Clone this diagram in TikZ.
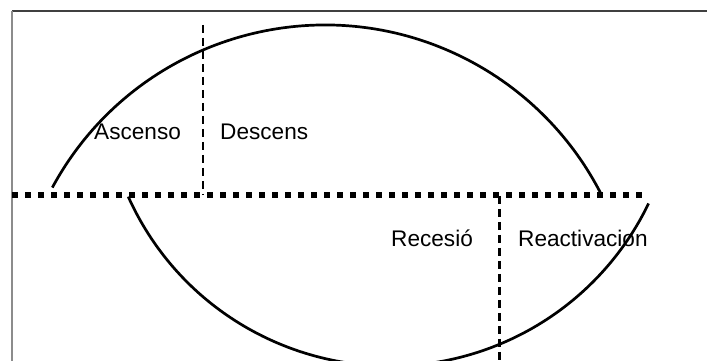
\documentclass[tikz,border=0pt]{standalone}
\usepackage{fontspec}
\setmainfont{Liberation Sans}
\begin{document}
\begin{tikzpicture}[x=1pt,y=1pt,
  frameline/.style={line width=1.2pt},
  cycleline/.style={line width=2.7pt, black},
  axisline/.style={line width=6pt, dash pattern=on 6.2pt off 6.8pt},
  splitline/.style={line width=2.4pt, dash pattern=on 8pt off 5pt},
  phase/.style={font=\fontsize{22.6}{26}\selectfont, anchor=base west, inner sep=0pt}]
  \useasboundingbox (0,0) rectangle (707,361);
  \clip (0,0) rectangle (707,361);
  \fill[white] (0,0) rectangle (707,361);
  % frame: top and left edges
  \coordinate (tl) at (12,350);
  \coordinate (tr) at (707,350);
  \coordinate (bl) at (12,0);
  \draw[frameline, black!75] (tl) -- (tr);
  \draw[frameline, black!45] (tl) -- (bl);
  % upper and lower cycle arcs
  \coordinate (cu) at (325,26);
  \coordinate (cl) at (390,282);
  \draw[cycleline] (cu) ++(151.6:310) arc[start angle=151.6, end angle=27, radius=310];
  \draw[cycleline] (cl) ++(204.2:287) arc[start angle=204.2, end angle=334.3, radius=287];
  % horizontal axis
  \coordinate (axL) at (12,165.5);
  \coordinate (axR) at (645,165.5);
  \draw[axisline] (axL) -- (axR);
  % phase dividers
  \coordinate (d1t) at (203,336);
  \coordinate (d1b) at (203,166);
  \coordinate (d2t) at (499.5,165);
  \coordinate (d2b) at (499.5,0);
  \draw[splitline] (d1t) -- (d1b);
  \draw[splitline] (d2t) -- (d2b);
  % phase labels
  \node[phase] (asc) at (94,221) {Ascenso};
  \node[phase] (des) at (220,221) {Descens};
  \node[phase] (rec) at (391,114) {Recesió};
  \node[phase] (rea) at (518,114) {Reactivacion};
\end{tikzpicture}
\end{document}
